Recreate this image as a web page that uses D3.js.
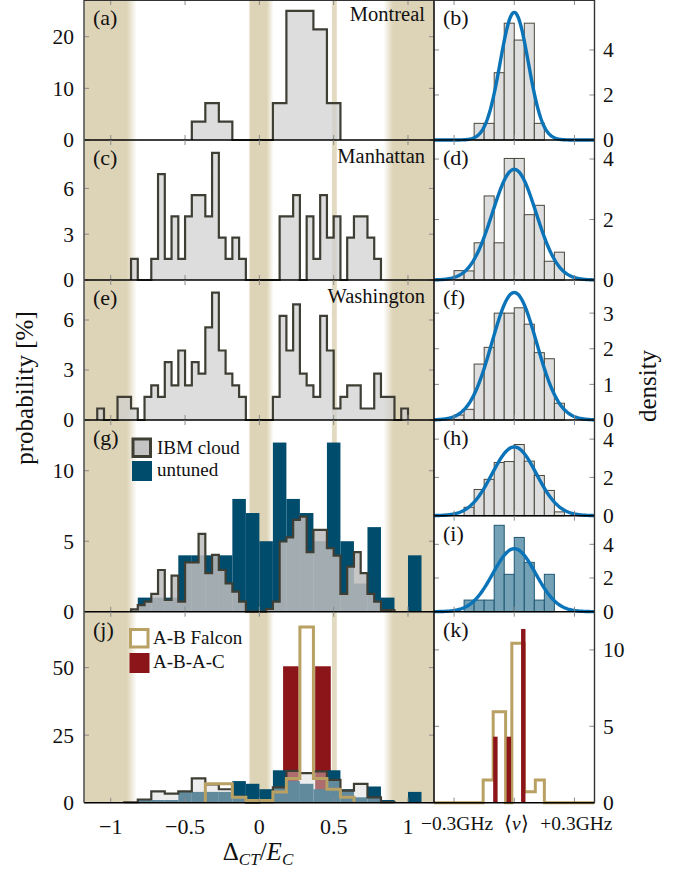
<!DOCTYPE html>
<html><head><meta charset="utf-8">
<script src="https://cdn.jsdelivr.net/npm/d3@7"></script>
<style>
body{margin:0;background:#fff;}
svg text{font-family:"Liberation Serif","Times New Roman",serif;fill:#111;}
</style></head><body>
<svg id="fig" width="683" height="873"></svg>
<script>
// ---------------- data ----------------
// Δ_CT/E_C histograms: fine bins of width 1/22, listed from bin index *Start
const fineWidth = 1 / 22;
const coarseWidth = 2 / 22;

const montrealStart = -10;
const montrealPct = [3.57,3.57,7.14,7.14,3.57,3.57,0,0,0,0,0,0,7.14,7.14,25,25,25,25,21.43,21.43,7.14,7.14];

const manhattanStart = -19;
const manhattanPct = [1.39,0,0,1.39,6.94,1.39,4.17,1.39,4.17,5.56,5.56,4.17,8.33,2.78,1.39,2.78,1.39,
  0,0,0,0,0,4.17,4.17,5.56,0,4.17,1.39,5.56,2.78,4.17,0,2.78,4.17,4.17,2.78,1.39];

const washingtonStart = -24;
const washingtonPct = [0.69,0,0,1.39,1.39,0.69,0,1.39,2.08,1.39,3.47,2.08,4.17,2.08,3.47,2.78,5.56,7.64,4.17,2.78,2.08,1.39,
  0,0,0,0,1.39,6.25,4.17,6.94,2.78,2.08,1.39,6.25,4.17,0.69,1.39,2.08,2.08,0.69,0.69,2.78,1.39,1.39,0,0.69];

const ibmStart = -19;
const ibmPct = [0.17,0.47,0.71,1.26,2.96,0.83,2.56,0.71,3.5,3.5,5.52,2.73,4.03,2.96,2.01,1.42,0.71,
  0,0,0,0.19,0.71,4.98,5.28,6.52,6.75,4.22,5.8,5.8,4.5,3.98,1.26,3.2,4.22,2.73,1.26,0.71,0.12,0.12];

// coarse bins of width 2/22; *Start given as index of a coarse bin
const untunedStart = -9;
const untunedPct = [1,1,1,4,4,4,4,8,7,5,12,8,7,5,12,5,2,6,1,0,4];

const ibmCoarseStart = -10;
const ibmCoarsePct = [0.17,1.18,4.22,3.39,4.21,9.02,6.76,4.97,2.13,0,0.19,5.69,11.8,10.97,11.6,8.48,4.46,6.95,1.97,0.24];

const falconStart = -4;
const falconPct = [7,7,2,0.8,0.8,4,9,65,9,5,2];

// A-B-A-C: two devices
const abacCenter = [0.212, 0.428];
const abacPct = [50.5, 50.5];
const abacWidth = 0.105;

// frequency spread around ⟨ν⟩ (GHz offsets, bins of 0.05)
const nuWidth = 0.05;
const montrealNuStart = -0.2;
const montrealNu = [0.74,0.74,2.99,5.19,4.44,5.19,0.74];
const manhattanNuStart = -0.3;
const manhattanNu = [0.31,0.3,1.23,2.78,1.23,4.02,4.02,2.16,2.47,0.62,0.92];
const washingtonNuStart = -0.3;
const washingtonNu = [0.14,0.3,1.57,2.04,3.0,3.0,3.15,2.69,1.89,1.72,0.47];
const ibmNuStart = -0.25;
const ibmNu = [0.44,1.37,1.9,2.78,2.83,3.72,2.85,2.1,1.32,0.2];
const untunedNuStart = -0.25;
const untunedNu = [0.69,0.69,0.69,5.13,2.22,4.41,2.93,0.69,2.22];

// normal fits (σ in GHz), centred on ⟨ν⟩
const fitSigma = { b: 0.0704, d: 0.109, f: 0.1115, h: 0.111, i: 0.1067 };

// falcon / A-B-A-C frequency histograms
const falconNuEdges = [-0.155,-0.105,-0.043,-0.012,0.05,0.105,0.15];
const falconNu = [1.49,5.96,0,10.44,0.72,1.49];
const abacNuLeft = [-0.105,-0.038,0.034];
const abacNuWidth = 0.022;
const abacNu = [4.32,4.32,11.37];

// tick labels
const xTicksLeft = [-1,-0.5,0,0.5,1];
const xTickLabelsLeft = ["\u22121","\u22120.5","0","0.5","1"];
const xTicksRight = [-0.3,0,0.3];

// ---------------- drawing ----------------
const svg = d3.select("#fig");
const C = {
  tan: "#ddd3b6", tanEdge: "#b9a063", grayFill: "#cfcfcf", outline: "#3f3e35",
  blue: "#0b73b7", navy: "#004c6d", steel: "#74a1b5", steelEdge: "#1e5873", red: "#8b1518",
  tick: "#8a8a8a"
};
const xL = d3.scaleLinear().domain([-1.18, 1.175]).range([84, 434]);
const xR = d3.scaleLinear().domain([-0.4, 0.4]).range([434, 594.5]);
const TOP = 0, BOTTOM = 802.7;

// shaded Δ regions
const defs = svg.append("defs");
function grad(id, stops) {
  const g = defs.append("linearGradient").attr("id", id).attr("x1", 0).attr("x2", 1).attr("y1", 0).attr("y2", 0);
  stops.forEach(s => g.append("stop").attr("offset", s[0]).attr("stop-color", C.tan).attr("stop-opacity", s[1]));
}
grad("bandL", [[0,1],[0.81,1],[1,0]]);
grad("bandM", [[0,0.2],[0.08,1],[0.72,1],[1,0]]);
grad("bandR", [[0,0],[0.19,1],[1,1]]);
const bands = [
  { a: -1.18, b: -0.825, fill: "url(#bandL)" },
  { a: -0.072, b: 0.096, fill: "url(#bandM)" },
  { a: 0.488, b: 0.521, fill: C.tan, op: 0.85 },
  { a: 0.835, b: 1.175, fill: "url(#bandR)" }
];
svg.append("g").selectAll("rect").data(bands).join("rect")
  .attr("x", d => xL(d.a)).attr("width", d => xL(d.b) - xL(d.a))
  .attr("y", TOP).attr("height", BOTTOM - TOP)
  .attr("fill", d => d.fill).attr("opacity", d => d.op || 1);

// outline points of a step histogram whose first bin starts at start*width
function stepPoints(start, width, vals) {
  const pts = [[start * width, 0]];
  vals.forEach((v, i) => {
    pts.push([(start + i) * width, v]);
    pts.push([(start + i + 1) * width, v]);
  });
  pts.push([(start + vals.length) * width, 0]);
  return pts;
}

function makePanel(y0, y1, ymax) {
  const y = d3.scaleLinear().domain([0, ymax]).range([y1, y0]);
  return { y, y0, y1, g: svg.append("g") };
}

function drawStep(p, x, start, width, vals, fill, fillOp, stroke, sw) {
  const pts = stepPoints(start, width, vals);
  const line = d3.line().x(d => x(d[0])).y(d => p.y(d[1]));
  if (fill) p.g.append("path").attr("d", line(pts)).attr("fill", fill).attr("fill-opacity", fillOp).attr("stroke", "none");
  if (stroke) p.g.append("path").attr("d", line(pts)).attr("fill", "none").attr("stroke", stroke)
    .attr("stroke-width", sw).attr("stroke-linejoin", "miter");
}
function drawBars(p, x, start, width, vals, fill, stroke, sw) {
  p.g.append("g").selectAll("rect").data(vals).join("rect")
    .attr("x", (d, i) => x(start + i * width)).attr("width", x(start + width) - x(start))
    .attr("y", d => p.y(d)).attr("height", d => p.y(0) - p.y(d))
    .attr("fill", fill).attr("stroke", stroke).attr("stroke-width", sw);
}
function drawFit(p, sigma) {
  const pts = d3.range(-0.4, 0.4001, 0.004).map(v => [v, Math.exp(-v * v / (2 * sigma * sigma)) / (sigma * Math.sqrt(2 * Math.PI))]);
  p.g.append("path").attr("d", d3.line().x(d => xR(d[0])).y(d => p.y(d[1]))(pts))
    .attr("fill", "none").attr("stroke", C.blue).attr("stroke-width", 3.4);
}

function frameAndTicks(p, x, xticks, yticks, side) {
  const g = p.g.append("g");
  const [xa, xb] = x.range();
  // x ticks, inward on top and bottom
  xticks.forEach(t => {
    g.append("line").attr("x1", x(t)).attr("x2", x(t)).attr("y1", p.y1).attr("y2", p.y1 - 5).attr("stroke", C.tick).attr("stroke-width", 1);
    g.append("line").attr("x1", x(t)).attr("x2", x(t)).attr("y1", p.y0).attr("y2", p.y0 + 5).attr("stroke", C.tick).attr("stroke-width", 1);
  });
  yticks.forEach(t => {
    g.append("line").attr("x1", xa).attr("x2", xa + 5).attr("y1", p.y(t)).attr("y2", p.y(t)).attr("stroke", C.tick);
    g.append("line").attr("x1", xb).attr("x2", xb - 5).attr("y1", p.y(t)).attr("y2", p.y(t)).attr("stroke", C.tick);
  });
  const axis = side === "left" ? d3.axisLeft(p.y).tickPadding(10) : d3.axisRight(p.y).tickPadding(8.5);
  axis.tickValues(yticks).tickSize(0).tickFormat(d3.format("d"));
  const ag = svg.append("g").attr("transform", `translate(${side === "left" ? xa : xb},0)`).call(axis);
  ag.select(".domain").remove();
  ag.selectAll("text").attr("font-size", 21.5).attr("font-family", "Liberation Serif").attr("fill", "#111");
  // zero line
  g.append("line").attr("x1", xa).attr("x2", xb).attr("y1", p.y(0)).attr("y2", p.y(0)).attr("stroke", "#000").attr("stroke-width", 1.6);
}
function panelLabel(p, x, txt) {
  p.g.append("text").attr("x", x).attr("y", p.y0 + 25).attr("font-size", 22).text(txt);
}
function nameLabel(p, txt, dy) {
  p.g.append("text").attr("x", 425).attr("y", p.y0 + dy).attr("text-anchor", "end").attr("font-size", 20.5).text(txt);
}

// ----- (a) Montreal
const pa = makePanel(0, 140, 27.1);
drawStep(pa, xL, montrealStart, fineWidth, montrealPct, C.grayFill, 0.7, C.outline, 2.2);
frameAndTicks(pa, xL, xTicksLeft, [0, 10, 20], "left");
panelLabel(pa, 93, "(a)"); nameLabel(pa, "Montreal", 21);

// ----- (c) Manhattan
const pc = makePanel(140, 280, 9.17);
drawStep(pc, xL, manhattanStart, fineWidth, manhattanPct, C.grayFill, 0.7, C.outline, 2.2);
frameAndTicks(pc, xL, xTicksLeft, [0, 3, 6], "left");
panelLabel(pc, 93, "(c)"); nameLabel(pc, "Manhattan", 22.7);

// ----- (e) Washington
const pe = makePanel(280, 420, 8.4);
drawStep(pe, xL, washingtonStart, fineWidth, washingtonPct, C.grayFill, 0.7, C.outline, 2.2);
frameAndTicks(pe, xL, xTicksLeft, [0, 3, 6], "left");
panelLabel(pe, 93, "(e)"); nameLabel(pe, "Washington", 22.7);

// ----- (g) IBM cloud vs untuned
const pg = makePanel(420, 611.7, 13.6);
drawBars(pg, xL, untunedStart * coarseWidth, coarseWidth, untunedPct, C.navy, "none", 0);
drawStep(pg, xL, ibmStart, fineWidth, ibmPct, "#bdbdbd", 0.86, C.outline, 2.2);
frameAndTicks(pg, xL, xTicksLeft, [0, 5, 10], "left");
panelLabel(pg, 93, "(g)");
pg.g.append("rect").attr("x", 133).attr("y", 439).attr("width", 17.5).attr("height", 17.5)
  .attr("fill", "#c4c4c4").attr("stroke", C.outline).attr("stroke-width", 3);
pg.g.append("rect").attr("x", 132).attr("y", 461).attr("width", 20).attr("height", 20).attr("fill", C.navy);
pg.g.append("text").attr("x", 157).attr("y", 453.5).attr("font-size", 19).text("IBM cloud");
pg.g.append("text").attr("x", 157).attr("y", 476).attr("font-size", 19).text("untuned");

// ----- (j) Falcon and A-B-A-C
const pj = makePanel(611.7, 802.7, 70.7);
pj.g.append("g").selectAll("rect").data(abacPct).join("rect")
  .attr("x", (d, i) => xL(abacCenter[i] - abacWidth / 2)).attr("width", xL(abacWidth) - xL(0))
  .attr("y", d => pj.y(d)).attr("height", d => pj.y(0) - pj.y(d)).attr("fill", C.red);
drawBars(pj, xL, untunedStart * coarseWidth, coarseWidth, untunedPct, C.navy, "none", 0);
drawStep(pj, xL, ibmCoarseStart, coarseWidth, ibmCoarsePct, "#d8d8d8", 0.45, C.outline, 2.2);
drawStep(pj, xL, falconStart, coarseWidth, falconPct, null, 0, C.tanEdge, 3);
frameAndTicks(pj, xL, xTicksLeft, [0, 25, 50], "left");
panelLabel(pj, 93, "(j)");
pj.g.append("rect").attr("x", 130.5).attr("y", 629.5).attr("width", 17.5).attr("height", 17.5)
  .attr("fill", "#fff").attr("stroke", C.tanEdge).attr("stroke-width", 3);
pj.g.append("rect").attr("x", 129.5).attr("y", 653).attr("width", 20).attr("height", 20).attr("fill", C.red);
pj.g.append("text").attr("x", 153).attr("y", 644).attr("font-size", 19).text("A-B Falcon");
pj.g.append("text").attr("x", 153).attr("y", 668).attr("font-size", 19).text("A-B-A-C");

// x axis labels (left)
svg.append("g").selectAll("text").data(xTicksLeft).join("text")
  .attr("x", d => xL(d)).attr("y", 834).attr("text-anchor", "middle").attr("font-size", 22)
  .text((d, i) => xTickLabelsLeft[i]);

// ----- right column
function nuPanel(y0, y1, ymax, ticks, start, vals, fill, stroke, sigma, lab) {
  const p = makePanel(y0, y1, ymax);
  drawBars(p, xR, start, nuWidth, vals, fill, stroke, 1);
  drawFit(p, sigma);
  frameAndTicks(p, xR, xTicksRight, ticks, "right");
  panelLabel(p, 443, lab);
  return p;
}
nuPanel(0, 140, 6.22, [0, 2, 4], montrealNuStart, montrealNu, "#dedede", "#4a473c", fitSigma.b, "(b)");
nuPanel(140, 280, 4.63, [0, 2, 4], manhattanNuStart, manhattanNu, "#dedede", "#4a473c", fitSigma.d, "(d)");
nuPanel(280, 420, 3.93, [0, 1, 2, 3], washingtonNuStart, washingtonNu, "#dedede", "#4a473c", fitSigma.f, "(f)");
nuPanel(420, 515.7, 5.0, [0, 2, 4], ibmNuStart, ibmNu, "#dedede", "#4a473c", fitSigma.h, "(h)");
nuPanel(515.7, 611.7, 5.7, [0, 2, 4], untunedNuStart, untunedNu, C.steel, C.steelEdge, fitSigma.i, "(i)");

const pk = makePanel(611.7, 802.7, 12.5);
{
  const n = falconNuEdges.length;
  const pts = [[-0.4, 0], [falconNuEdges[0], 0]];
  falconNu.forEach((v, i) => { pts.push([falconNuEdges[i], v]); pts.push([falconNuEdges[i + 1], v]); });
  pts.push([falconNuEdges[n - 1], 0]); pts.push([0.4, 0]);
  pk.g.append("path").attr("d", d3.line().x(d => xR(d[0])).y(d => pk.y(d[1]))(pts))
    .attr("fill", "none").attr("stroke", C.tanEdge).attr("stroke-width", 3);
  pk.g.append("g").selectAll("rect").data(abacNu).join("rect")
    .attr("x", (d, i) => xR(abacNuLeft[i])).attr("width", xR(abacNuWidth) - xR(0))
    .attr("y", d => pk.y(d)).attr("height", d => pk.y(0) - pk.y(d)).attr("fill", C.red);
}
frameAndTicks(pk, xR, xTicksRight, [0, 5, 10], "right");
panelLabel(pk, 443, "(k)");

// frequency axis labels
{
  const lg = svg.append("g").attr("font-size", 19.5);
  lg.append("text").attr("x", xR(-0.3) + 3).attr("y", 830).attr("text-anchor", "middle").text("\u22120.3GHz");
  const mid = lg.append("text").attr("x", xR(0) + 2).attr("y", 830).attr("text-anchor", "middle");
  mid.append("tspan").text("\u27E8");
  mid.append("tspan").attr("font-style", "italic").text("\u03BD");
  mid.append("tspan").text("\u27E9");
  lg.append("text").attr("x", xR(0.3) + 2).attr("y", 830).attr("text-anchor", "middle").text("+0.3GHz");
}

// column frames
svg.append("line").attr("x1", 84).attr("x2", 84).attr("y1", 0).attr("y2", BOTTOM).attr("stroke", "#555").attr("stroke-width", 1.6);
svg.append("line").attr("x1", 434).attr("x2", 434).attr("y1", 0).attr("y2", BOTTOM).attr("stroke", "#111").attr("stroke-width", 1.6);
svg.append("line").attr("x1", 594.5).attr("x2", 594.5).attr("y1", 0).attr("y2", BOTTOM).attr("stroke", "#333").attr("stroke-width", 1.4);
svg.append("line").attr("x1", 84).attr("x2", 594.5).attr("y1", 0.5).attr("y2", 0.5).attr("stroke", "#333").attr("stroke-width", 1);

// axis titles
svg.append("text").attr("transform", "translate(33,388) rotate(-90)").attr("text-anchor", "middle").attr("font-size", 25).text("probability [%]");
svg.append("text").attr("transform", "translate(656,386) rotate(-90)").attr("text-anchor", "middle").attr("font-size", 25).text("density");
const xt = svg.append("text").attr("x", 258).attr("y", 860).attr("text-anchor", "middle").attr("font-size", 25);
xt.append("tspan").text("\u0394");
xt.append("tspan").attr("font-style", "italic").attr("font-size", 17).attr("dy", 5).text("CT");
xt.append("tspan").attr("dy", -5).text("/");
xt.append("tspan").attr("font-style", "italic").text("E");
xt.append("tspan").attr("font-style", "italic").attr("font-size", 17).attr("dy", 5).text("C");
</script>
</body></html>
